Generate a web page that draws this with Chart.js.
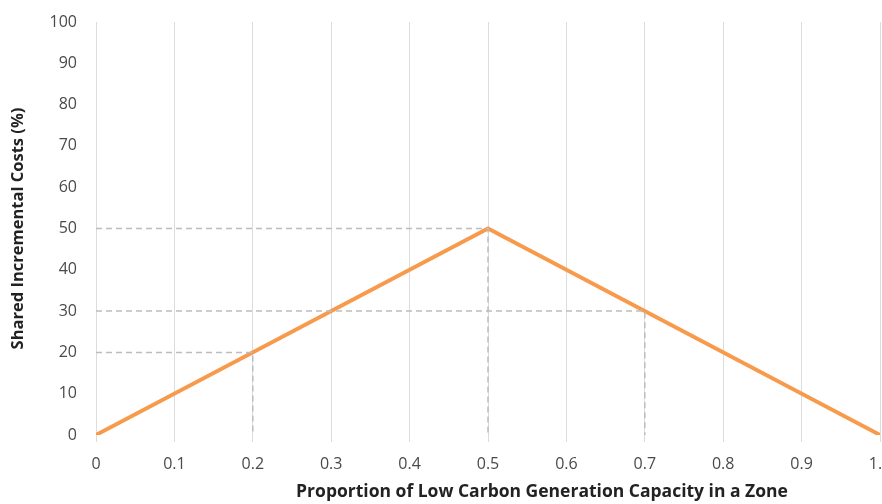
<!DOCTYPE html>
<html>
<head>
<meta charset="utf-8">
<script src="https://cdn.jsdelivr.net/npm/chart.js@4/dist/chart.umd.min.js"></script>
<style>
  html, body { margin: 0; padding: 0; background: #fff; }
  #wrap { width: 882px; height: 504px; }
</style>
</head>
<body>
<div id="wrap"><canvas id="chart"></canvas></div>
<script>
// Cost-sharing curve
const proportion = [0, 0.5, 1];
const sharedCost = [0, 50, 0];

// Dashed reference markers (x, y)
const refX = [0.2, 0.7, 0.5];
const refY = [20, 30, 50];

const xTitle = 'Proportion of Low Carbon Generation Capacity in a Zone';
const yTitle = 'Shared Incremental Costs (%)';

const lineColor = '#f79a4c';
const dashColor = '#bdbdbd';

const refSets = refX.map((rx, i) => ({
    data: [{ x: 0, y: refY[i] }, { x: rx, y: refY[i] }, { x: rx, y: 0 }],
    borderColor: dashColor,
    borderWidth: 1.5,
    borderDash: [6, 4],
    pointRadius: 0,
    fill: false
}));

// the x title sits right of centre in the original, so draw it by hand
const xTitlePlugin = {
    id: 'xTitle',
    afterDraw(chart) {
        const { ctx, chartArea } = chart;
        ctx.save();
        ctx.font = 'bold 17.5px "Open Sans"';
        ctx.fillStyle = '#222';
        ctx.textAlign = 'center';
        ctx.textBaseline = 'middle';
        ctx.fillText(xTitle, (chartArea.left + chartArea.right) / 2 + 54, chart.height - 12);
        ctx.restore();
    }
};

new Chart(document.getElementById('chart'), {
    type: 'line',
    data: {
        datasets: [
            ...refSets,
            {
                data: proportion.map((p, i) => ({ x: p, y: sharedCost[i] })),
                borderColor: lineColor,
                borderWidth: 3.8,
                pointRadius: 0,
                fill: false
            }
        ]
    },
    options: {
        responsive: true,
        maintainAspectRatio: false,
        animation: false,
        layout: { padding: { left: 0, right: 2, top: 22, bottom: 2 } },
        plugins: { legend: { display: false }, tooltip: { enabled: false } },
        scales: {
            x: {
                type: 'linear',
                min: 0, max: 1,
                grid: { color: '#dcdcdc', lineWidth: 1, tickLength: 7, tickColor: '#dcdcdc' },
                border: { display: false },
                ticks: {
                    stepSize: 0.1,
                    maxRotation: 0,
                    color: '#4a4a4a',
                    font: { family: 'Open Sans', size: 16 },
                    padding: 13
                },
                afterFit: s => { s.paddingRight = 0; s.paddingLeft = 0; s.height = 67; }
            },
            y: {
                min: 0, max: 100,
                grid: { display: false },
                border: { display: false },
                ticks: {
                    stepSize: 10,
                    color: '#4a4a4a',
                    font: { family: 'Open Sans', size: 16 },
                    padding: 11
                },
                title: {
                    display: true,
                    text: yTitle,
                    color: '#222',
                    font: { family: 'Open Sans', size: 16.5, weight: 'bold' },
                    padding: { top: 8, bottom: 0 }
                },
                afterFit: s => { s.width = 96; s.paddingTop = 0; s.paddingBottom = 0; }
            }
        }
    },
    plugins: [xTitlePlugin]
});
</script>
</body>
</html>
